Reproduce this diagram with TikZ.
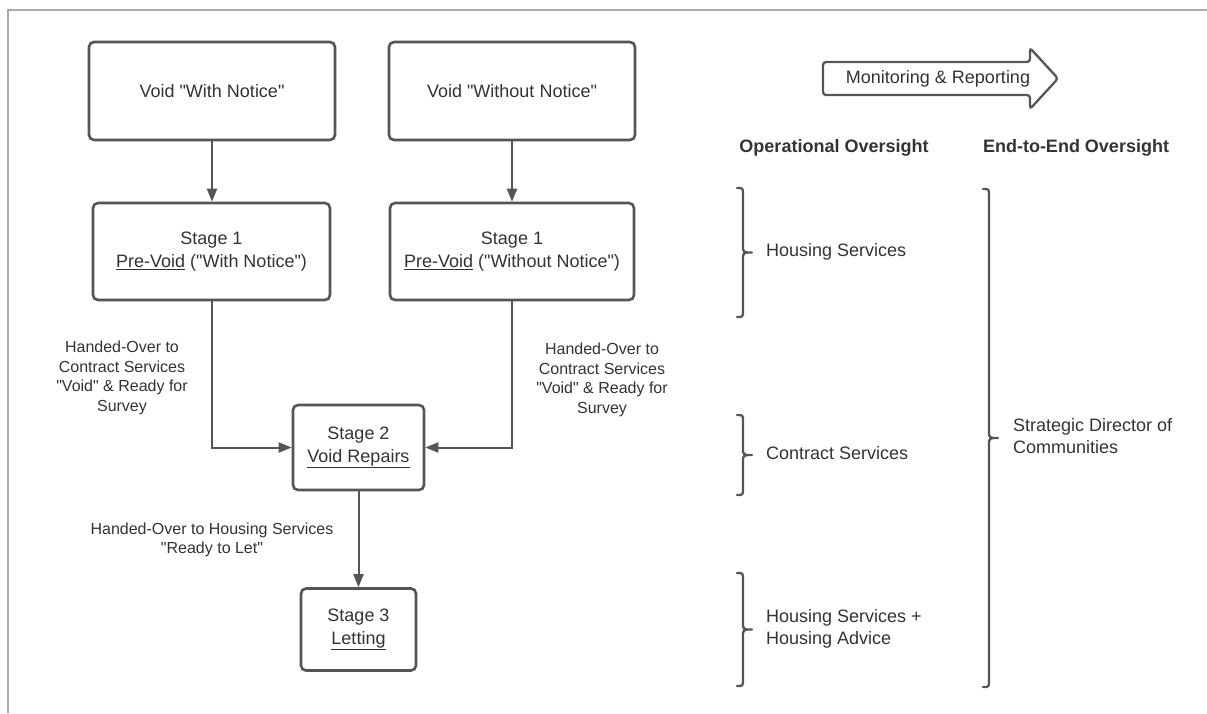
\documentclass[tikz,border=0pt]{standalone}
\usepackage{fontspec}
\setmainfont{Liberation Sans}
\usetikzlibrary{arrows.meta}
\definecolor{ln}{HTML}{555555}
\definecolor{tx}{HTML}{333333}
\definecolor{fr}{HTML}{AAAAAA}
\newcommand{\dq}{\textquotedbl}
\newcommand{\mybrace}[3]{%
  \draw[bracepath] (#1,#2) .. controls ({#1+6},#2) .. ({#1+6},{#2+7})
    -- ({#1+6},{(#2+#3)/2-7}) .. controls ({#1+6},{(#2+#3)/2}) .. ({#1+15},{(#2+#3)/2})
    .. controls ({#1+6},{(#2+#3)/2}) .. ({#1+6},{(#2+#3)/2+7})
    -- ({#1+6},{#3-7}) .. controls ({#1+6},#3) .. (#1,#3);}
\begin{document}
\begin{tikzpicture}[x=1pt,y=-1pt,
  box/.style={draw=ln, line width=2.6pt, rounded corners=5pt, align=center, text=tx,
    font=\fontsize{18}{22.5}\selectfont, inner sep=0pt},
  conn/.style={draw=ln, line width=2pt, -{Triangle[length=13pt,width=10pt]}},
  elabel/.style={align=center, text=tx, font=\fontsize{16}{19.5}\selectfont, inner sep=0pt},
  txt/.style={align=left, text=tx, font=\fontsize{18}{21.5}\selectfont, inner sep=0pt, anchor=west},
  head/.style={text=tx, font=\bfseries\fontsize{18}{22}\selectfont, inner sep=0pt},
  bracepath/.style={draw=ln, line width=2.3pt, line cap=round, line join=round},
  frame/.style={draw=fr, line width=1.3pt},
  bigarrow/.style={draw=ln, line width=2.3pt, rounded corners=3pt}]
\useasboundingbox (0,0) rectangle (1207,713);
\draw[frame] (8,713) -- (8,10) -- (1207,10);

\node[box, minimum width=246pt, minimum height=98pt] (v1) at (212,91) {Void \dq With Notice\dq};
\node[box, minimum width=246pt, minimum height=98pt] (v2) at (512,91) {Void \dq Without Notice\dq};
\node[box, minimum width=237pt, minimum height=97pt] (s1a) at (211.5,251.5) {Stage 1\\\underline{Pre-Void} (\dq With Notice\dq)};
\node[box, minimum width=244pt, minimum height=97pt] (s1b) at (512,251.5) {Stage 1\\\underline{Pre-Void} (\dq Without Notice\dq)};
\node[box, minimum width=131pt, minimum height=85pt] (s2) at (358.5,447.5) {Stage 2\\\underline{Void Repairs}};
\node[box, minimum width=115pt, minimum height=82pt] (s3) at (358.5,629.5) {Stage 3\\\underline{Letting}};

\draw[conn] (v1.south) -- (v1.south |- s1a.north);
\draw[conn] (v2.south) -- (s1b.north);
\draw[conn] (s1a.south) |- (s2.west);
\draw[conn] (s1b.south) |- (s2.east);
\draw[conn] (s2.south) -- (s3.north);

\node[elabel] (l1) at (122,378) {Handed-Over to\\Contract Services\\\dq Void\dq\ \& Ready for\\Survey};
\node[elabel] (l2) at (602,380) {Handed-Over to\\Contract Services\\\dq Void\dq\ \& Ready for\\Survey};
\node[elabel] (l3) at (212,540) {Handed-Over to Housing Services\\\dq Ready to Let\dq};

\draw[bigarrow] (823,62) -- (1030,62) -- (1030,48) -- (1058,78.5) -- (1030,109) -- (1030,95) -- (823,95) -- cycle;
\node[text=tx, font=\fontsize{18}{22}\selectfont, inner sep=0pt] (mr) at (938,79) {Monitoring \& Reporting};

\node[head] (h1) at (834,148) {Operational Oversight};
\node[head] (h2) at (1076,148) {End-to-End Oversight};

\mybrace{737}{188}{317}
\mybrace{737}{415}{495}
\mybrace{737}{573}{686}
\mybrace{983}{189}{687}

\node[txt] (o1) at (766,252) {Housing Services};
\node[txt] (o2) at (766,453) {Contract Services};
\node[txt] (o3) at (766,629) {Housing Services +\\Housing Advice};
\node[txt] (e1) at (1013,436) {Strategic Director of\\Communities};
\end{tikzpicture}
\end{document}
